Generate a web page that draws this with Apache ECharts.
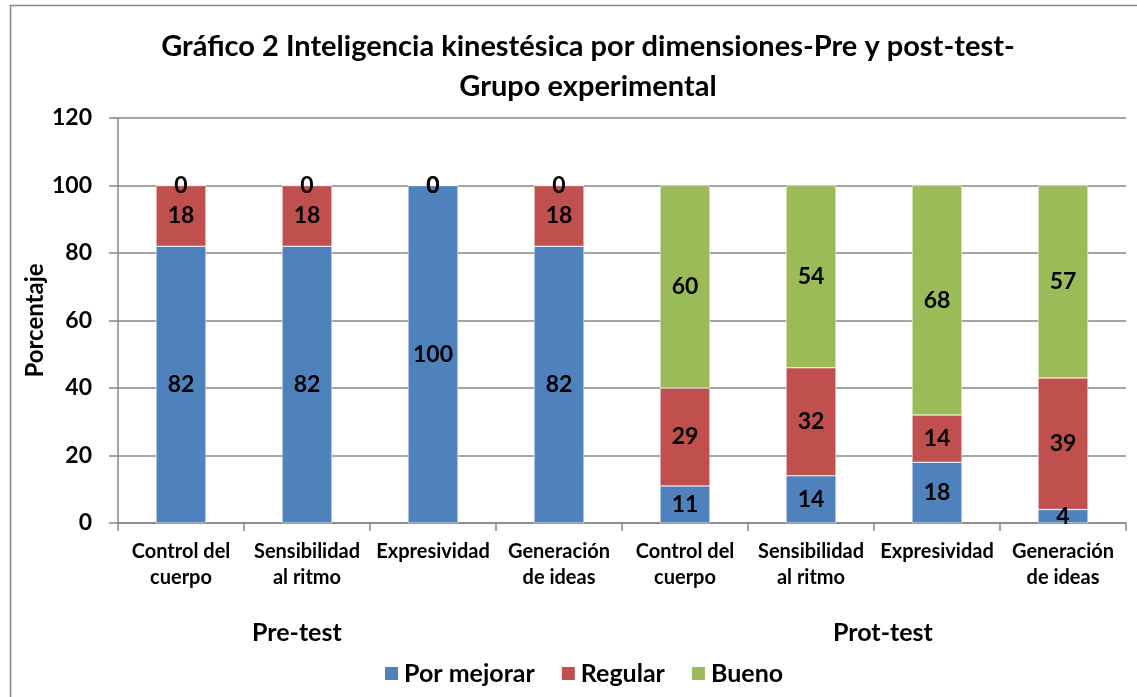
<!DOCTYPE html>
<html>
<head>
<meta charset="utf-8">
<script src="https://cdn.jsdelivr.net/npm/echarts@6/dist/echarts.min.js"></script>
<style>
html,body{margin:0;padding:0;background:#fff;}
#main{width:1137px;height:697px;}
</style>
</head>
<body>
<div id="main"></div>
<script>
// datos del gráfico
var categorias = ['Control del\ncuerpo','Sensibilidad\nal ritmo','Expresividad','Generación\nde ideas',
                  'Control del\ncuerpo','Sensibilidad\nal ritmo','Expresividad','Generación\nde ideas'];
var porMejorar = [82, 82, 100, 82, 11, 14, 18, 4];
var regular    = [18, 18, 0, 18, 29, 32, 14, 39];
var bueno      = [0, 0, 0, 0, 60, 54, 68, 57];
var grupos     = ['Pre-test', 'Prot-test'];
var yTicks     = [0, 20, 40, 60, 80, 100, 120];

var fuente = 'Lato, "Open Sans", sans-serif';
var myChart = echarts.init(document.getElementById('main'));

var etiqueta = {
    show: true,
    position: 'inside',
    color: '#000',
    fontSize: 23,
    fontWeight: 'bold',
    fontFamily: fuente
};

var option = {
    animation: false,
    color: ['#4F81BD', '#C0504D', '#9BBB59'],
    title: {
        text: 'Gráfico 2 Inteligencia kinestésica por dimensiones-Pre y post-test-\nGrupo experimental',
        left: 583,
        textAlign: 'center',
        top: 22,
        textStyle: {
            fontSize: 29,
            fontWeight: 'bold',
            fontFamily: fuente,
            color: '#000',
            lineHeight: 40
        }
    },
    legend: {
        data: ['Por mejorar', 'Regular', 'Bueno'],
        left: 383,
        top: 661,
        padding: 0,
        icon: 'rect',
        itemWidth: 15,
        itemHeight: 15,
        itemGap: 25,
        textStyle: {
            fontSize: 25,
            fontWeight: 'bold',
            fontFamily: fuente,
            color: '#000'
        }
    },
    grid: {
        left: 118,
        right: 11,
        top: 118,
        bottom: 174
    },
    graphic: [
        {
            type: 'rect',
            shape: {x: 10.5, y: 5.5, width: 1200, height: 800},
            style: {fill: 'none', stroke: '#868686', lineWidth: 1.5},
            silent: true
        },
        {
            type: 'text',
            left: 252,
            top: 620,
            style: {text: grupos[0], fontSize: 25, fontWeight: 'bold', fontFamily: fuente, fill: '#000'}
        },
        {
            type: 'text',
            left: 833,
            top: 620,
            style: {text: grupos[1], fontSize: 25, fontWeight: 'bold', fontFamily: fuente, fill: '#000'}
        }
    ],
    xAxis: {
        type: 'category',
        data: categorias,
        axisLine: {lineStyle: {color: '#868686', width: 1.5}},
        axisTick: {show: true, length: 8, alignWithLabel: false, lineStyle: {color: '#868686', width: 1.5}},
        axisLabel: {
            interval: 0,
            margin: 16,
            color: '#000',
            fontSize: 20,
            fontWeight: 'bold',
            fontFamily: fuente,
            lineHeight: 26
        }
    },
    yAxis: {
        type: 'value',
        min: yTicks[0],
        max: yTicks[yTicks.length - 1],
        interval: 20,
        name: 'Porcentaje',
        nameLocation: 'middle',
        nameGap: 71,
        nameMoveOverlap: false,
        nameTextStyle: {
            fontSize: 24,
            fontWeight: 'bold',
            fontFamily: fuente,
            color: '#000'
        },
        axisLine: {show: true, lineStyle: {color: '#868686', width: 1.5}},
        axisTick: {show: true, length: 9, lineStyle: {color: '#868686', width: 1.5}},
        splitLine: {show: true, lineStyle: {color: '#868686', width: 1.5}},
        axisLabel: {
            margin: 26,
            color: '#000',
            fontSize: 23,
            fontWeight: 'bold',
            fontFamily: fuente
        }
    },
    series: [
        {
            name: 'Por mejorar',
            type: 'bar',
            stack: 'total',
            barWidth: 50,
            label: etiqueta,
            itemStyle: {borderColor: '#ffffff', borderWidth: 0.5},
            data: porMejorar
        },
        {
            name: 'Regular',
            type: 'bar',
            stack: 'total',
            label: etiqueta,
            itemStyle: {borderColor: '#ffffff', borderWidth: 0.5},
            data: regular
        },
        {
            name: 'Bueno',
            type: 'bar',
            stack: 'total',
            label: etiqueta,
            itemStyle: {borderColor: '#ffffff', borderWidth: 0.5},
            data: bueno
        }
    ]
};

myChart.setOption(option);
</script>
</body>
</html>
